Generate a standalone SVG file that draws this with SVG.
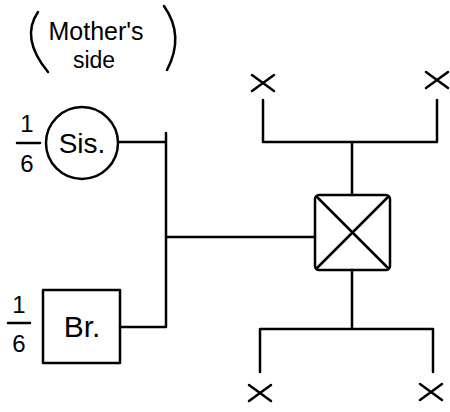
<svg xmlns="http://www.w3.org/2000/svg" width="450" height="412" viewBox="0 0 450 412">
<style>
.s{fill:none;stroke:#000;stroke-width:2.5;stroke-linecap:round;stroke-linejoin:round}
.t{font-family:"Liberation Sans","DejaVu Sans",sans-serif;fill:#000}
</style>
<defs>
<g id="xm"><path class="s" d="M-11,-8 L11,8 M-11,8 L11,-8"/></g>
</defs>
<rect width="450" height="412" fill="#fff"/>
<g id="label">
<path class="s" d="M38,12 Q20,38 48,72"/>
<path class="s" d="M164,6 Q185,36 167,70"/>
<text class="t" x="96" y="40" font-size="25" text-anchor="middle">Mother's</text>
<text class="t" x="94" y="68" font-size="23" text-anchor="middle">side</text>
</g>
<g id="connectors">
<path class="s" d="M118,142 H166 M166,133 V327 H120 M166,237 H315"/>
<path class="s" d="M352,195 V142 M263,100 V142 H437 V100"/>
<path class="s" d="M352,270 V329 M260,372 V329 H433 V372"/>
</g>
<g id="sis">
<circle class="s" cx="82" cy="143" r="36"/>
<text class="t" x="82" y="153" font-size="28" text-anchor="middle">Sis.</text>
<text class="t" x="27" y="132" font-size="24" text-anchor="middle">1</text>
<path class="s" d="M17,143 H40"/>
<text class="t" x="27" y="172" font-size="24" text-anchor="middle">6</text>
</g>
<g id="br">
<rect class="s" x="43" y="290" width="77" height="73"/>
<text class="t" x="82" y="337" font-size="30" text-anchor="middle">Br.</text>
<text class="t" x="19" y="313" font-size="24" text-anchor="middle">1</text>
<path class="s" d="M8,323 H30"/>
<text class="t" x="19" y="352" font-size="24" text-anchor="middle">6</text>
</g>
<g id="center">
<rect class="s" x="315" y="195" width="75" height="75" rx="4"/>
<path class="s" d="M317,197 L388,268 M388,197 L317,268"/>
</g>
<g id="x1"><use href="#xm" x="263" y="83"/></g>
<g id="x2"><use href="#xm" x="437" y="80"/></g>
<g id="x3"><use href="#xm" x="260" y="393"/></g>
<g id="x4"><use href="#xm" x="431" y="392"/></g>
</svg>
